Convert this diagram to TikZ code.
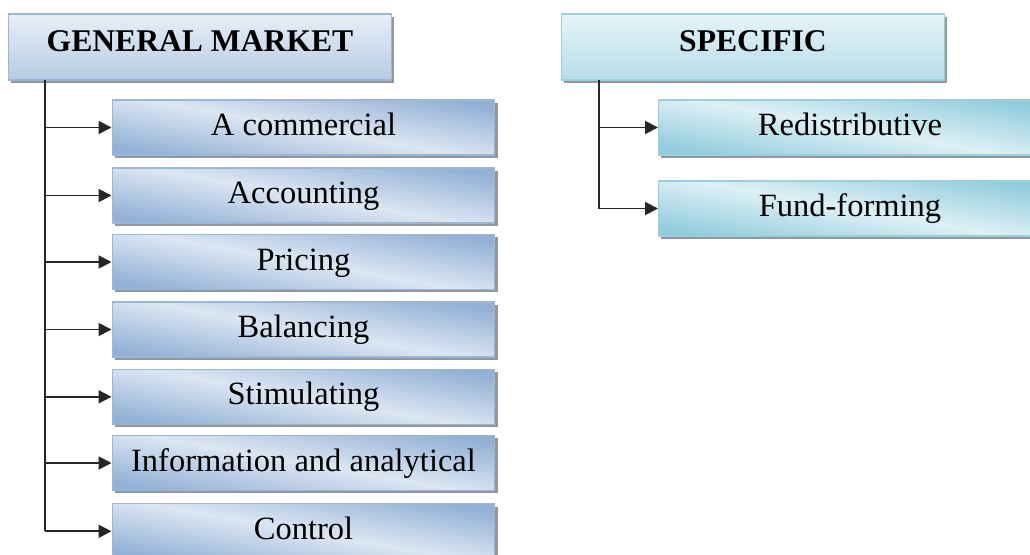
\documentclass[tikz,border=0pt]{standalone}
\usepackage{fontspec}
\setmainfont{Liberation Serif}
\usetikzlibrary{arrows.meta,shadows}
\definecolor{gmline}{HTML}{9AB6D9}
\definecolor{gmdark}{HTML}{93B1D6}
\definecolor{gmlight}{HTML}{DCE6F2}
\definecolor{gmtop}{HTML}{E8EEF7}
\definecolor{gmbot}{HTML}{B6CBE4}
\definecolor{spline}{HTML}{98D0DE}
\definecolor{spdark}{HTML}{92CCDC}
\definecolor{splight}{HTML}{DDF0F5}
\definecolor{sptop}{HTML}{E6F4F8}
\definecolor{spbot}{HTML}{B5DDE8}
\begin{document}
\begin{tikzpicture}[x=0.02cm,y=-0.02cm,line join=round,>={Triangle[length=2.6mm,width=2.6mm]}]
	\tikzset{every node/.style={font=\fontsize{18.5}{22}\selectfont,inner sep=0pt},
		box/.style={draw,line width=0.6pt,minimum width=7.66cm,minimum height=1.1cm,
			text height=0.5cm,text depth=0.18cm,
			drop shadow={shadow xshift=1.6pt,shadow yshift=-1.6pt,fill=black!55,opacity=0.75}},
		head/.style={box,minimum height=1.32cm,text height=0.45cm,text depth=0.25cm,
			font=\fontsize{18}{22}\selectfont\bfseries},
		gmhead/.style={head,draw=gmline,top color=gmtop,bottom color=gmbot},
		sphead/.style={head,draw=spline,top color=sptop,bottom color=spbot},
		gmbox/.style={box,draw=gmline,top color=gmdark,bottom color=gmdark,middle color=gmlight,shading angle=-10},
		spbox/.style={box,draw=spline,top color=spdark,bottom color=spdark,middle color=splight,shading angle=-10},
		link/.style={draw=black!85,line width=1.1pt}}
	\useasboundingbox (0,0) rectangle (1030,554);
	\clip (0,0) rectangle (1030,554);
	% the two groups
	\node[gmhead] (gm) at (200,47) {GENERAL MARKET};
	\node[sphead] (sp) at (753,47) {SPECIFIC};
	% general market functions
	\foreach \i/\y/\t in {1/127.5/A commercial, 2/195.5/Accounting, 3/262/Pricing,
		4/329.5/Balancing, 5/396.8/Stimulating, 6/463/Information and analytical, 7/531.3/Control}
	\node[gmbox] (c\i) at (303.5,\y) {\t};
	% specific functions
	\foreach \i/\y/\t in {1/127.5/Redistributive, 2/208.5/Fund-forming}
	\node[spbox] (s\i) at (850,\y) {\t};
	\coordinate (gmroot) at (45,80);
	\coordinate (sproot) at (599,80);
	\draw[link] (gmroot) -- (gmroot |- c7.west);
	\foreach \i in {1,...,7}
	\draw[link,->] (gmroot |- c\i.west) -- (c\i.west);
	\draw[link] (sproot) -- (sproot |- s2.west);
	\foreach \i in {1,2}
	\draw[link,->] (sproot |- s\i.west) -- (s\i.west);
\end{tikzpicture}
\end{document}
